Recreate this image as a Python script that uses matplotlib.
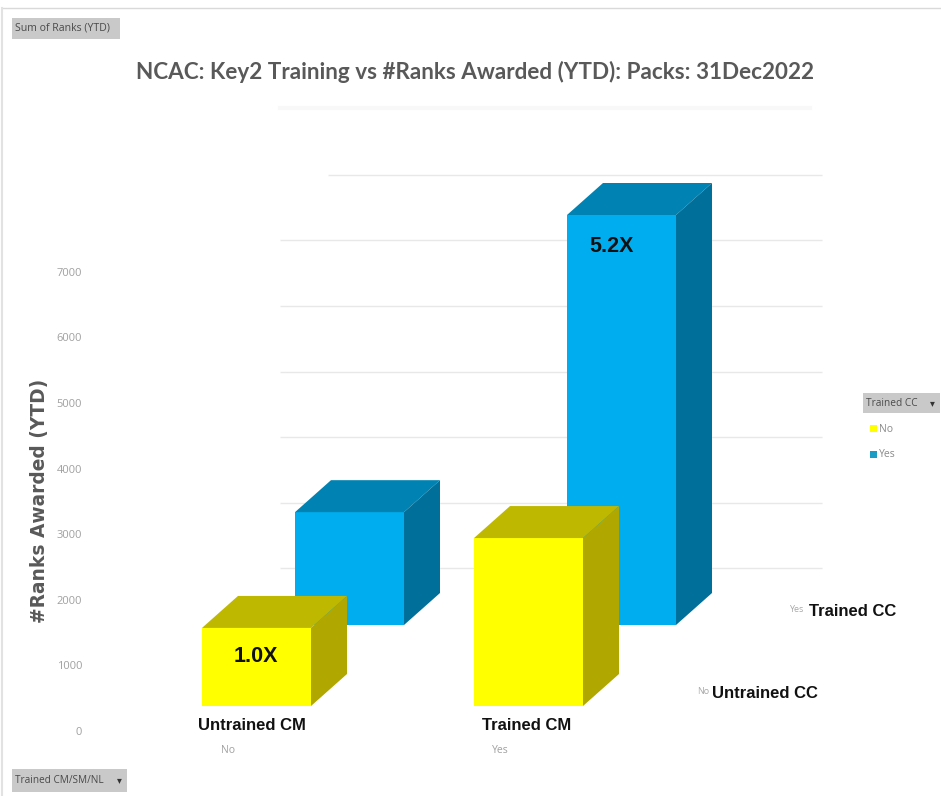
import matplotlib
matplotlib.use("Agg")
import matplotlib.pyplot as plt
from matplotlib.patches import Polygon, Rectangle

# values
cm_labels = ["No", "Yes"]
cm_names = ["Untrained CM", "Trained CM"]
ranks_untrained_cc = [1190, 2560]
ranks_trained_cc = [1720, 6250]
y_ticks = [0, 1000, 2000, 3000, 4000, 5000, 6000, 7000]
grid_levels = [1000, 2000, 3000, 4000, 5000, 6000, 7000]
ratio_labels = ["1.0X", "5.2X"]

W, H = 941, 796
PX_PER_RANK = 0.0656
PX_PER_CAT = 272.0
YELLOW = ("#FFFF00", "#BFB800", "#B0A800")
BLUE = ("#00AEEF", "#0083B3", "#006F9A")


def dx(px):
    return px / PX_PER_CAT


def dy(px):
    return px / PX_PER_RANK


def draw_bar(ax, cat, value, shift_px, floor_px, colors, z):
    # front face plus the fake 3d top and side
    front, top, side = colors
    width = dx(109)
    left = cat + dx(shift_px)
    right = left + width
    base = dy(floor_px)
    d_x = dx(36)
    d_y = dy(32)
    peak = base + value
    ax.bar(left, value, width=width, bottom=base, align="edge", color=front, zorder=z, linewidth=0)
    ax.add_patch(Polygon([(left, peak), (right, peak), (right + d_x, peak + d_y), (left + d_x, peak + d_y)],
                         closed=True, facecolor=top, edgecolor="none", zorder=z))
    ax.add_patch(Polygon([(right, base), (right, peak), (right + d_x, peak + d_y), (right + d_x, base + d_y)],
                         closed=True, facecolor=side, edgecolor="none", zorder=z))


def button(fig, x, y, w, h, label, size, arrow=False):
    fig.add_artist(Rectangle((x / W, 1 - (y + h) / H), w / W, h / H, transform=fig.transFigure,
                             facecolor="#C9C9C9", edgecolor="none"))
    fig.text((x + 3) / W, 1 - (y + h / 2) / H, label, fontsize=size, color="#4A4A4A",
             va="center", ha="left", family="Open Sans")
    if arrow:
        fig.text((x + w - 8) / W, 1 - (y + h / 2) / H, "▾", fontsize=7, color="#333333",
                 va="center", ha="center", family="DejaVu Sans")


fig = plt.figure(figsize=(W / 100, H / 100), dpi=100, facecolor="white")
ax = fig.add_axes([85 / W, 1 - 731 / H, (W - 85) / W, 731 / H])
ax.set_xlim(-143 / PX_PER_CAT, (W - 228) / PX_PER_CAT)
ax.set_ylim(0, dy(731))
for s in ax.spines.values():
    s.set_visible(False)
ax.patch.set_alpha(0)

ax.set_yticks(y_ticks)
ax.set_yticklabels([str(t) for t in y_ticks], fontsize=8, color="#A0A0A0", family="Open Sans")
ax.set_xticks(range(len(cm_labels)))
ax.set_xticklabels(cm_labels, fontsize=7.5, color="#A0A0A0", family="Open Sans")
ax.tick_params(length=0, axis="y", pad=2)
ax.tick_params(length=0, axis="x", pad=10)

# gridlines on the back wall, first one is the short top line
wall = dy(97)
for i, g in enumerate(grid_levels):
    start = dx(328 - 228) if g == grid_levels[-1] else dx(280 - 228)
    ax.hlines(g + wall, start, dx(822 - 228), color="#E8E8E8", linewidth=1, zorder=1)

# back row first, so that the yellow row covers it
for cat, v in enumerate(ranks_trained_cc):
    draw_bar(ax, cat, v, 67, 106, BLUE, 2 + cat)
for cat, v in enumerate(ranks_untrained_cc):
    draw_bar(ax, cat, v, -26, 25, YELLOW, 5 + cat)

ax.text(dx(28), dy(731 - 657), ratio_labels[0], fontsize=15.5, fontweight="bold", family="Liberation Sans",
        color="#111111", ha="center", va="center", zorder=10)
ax.text(1 + dx(112), dy(731 - 247), ratio_labels[1], fontsize=15.5, fontweight="bold", family="Liberation Sans",
        color="#111111", ha="center", va="center", zorder=10)

# category names written over the chart
ax.text(dx(24), dy(731 - 725), cm_names[0], fontsize=12, fontweight="bold", family="Liberation Sans",
        color="#111111", ha="center", va="center")
ax.text(1 + dx(27), dy(731 - 725), cm_names[1], fontsize=12, fontweight="bold", family="Liberation Sans",
        color="#111111", ha="center", va="center")

# depth axis labels
fig.text(809 / W, 1 - 611 / H, "Trained CC", fontsize=12, fontweight="bold", family="Liberation Sans",
         color="#111111", va="center")
fig.text(712 / W, 1 - 693 / H, "Untrained CC", fontsize=12, fontweight="bold", family="Liberation Sans",
         color="#111111", va="center")
fig.text(789 / W, 1 - 610 / H, "Yes", fontsize=6.5, color="#A8A8A8", va="center", family="Open Sans")
fig.text(697 / W, 1 - 691 / H, "No", fontsize=6.5, color="#A8A8A8", va="center", family="Open Sans")

fig.text(475 / W, 1 - 72 / H, "NCAC: Key2 Training vs #Ranks Awarded (YTD): Packs: 31Dec2022",
         fontsize=16.2, fontweight="bold", family="Lato", color="#595959", ha="center", va="center")
fig.text(40 / W, 1 - 501 / H, "#Ranks Awarded (YTD)", rotation=90, fontsize=13.4, fontweight="bold",
         family="DejaVu Sans", color="#595959", ha="center", va="center")

# faint smear under the title and the window border
fig.add_artist(plt.Line2D([280 / W, 810 / W], [1 - 108 / H, 1 - 108 / H], color="#F8F8F8", linewidth=3))
fig.add_artist(plt.Line2D([2 / W, 1], [1 - 8 / H, 1 - 8 / H], color="#D9D9D9", linewidth=1))
fig.add_artist(plt.Line2D([2 / W, 2 / W], [0, 1 - 8 / H], color="#E2E2E2", linewidth=1.5))

button(fig, 12, 18, 108, 21, "Sum of Ranks (YTD)", 7.6)
button(fig, 12, 769, 115, 23, "Trained CM/SM/NL", 7.2, arrow=True)
button(fig, 863, 393, 77, 20, "Trained CC", 7.3, arrow=True)

# legend
fig.add_artist(Rectangle((870 / W, 1 - 432 / H), 7 / W, 7 / H, transform=fig.transFigure,
                         facecolor="#FFFF00", edgecolor="none"))
fig.add_artist(Rectangle((870 / W, 1 - 458 / H), 7 / W, 7 / H, transform=fig.transFigure,
                         facecolor="#1B9CC4", edgecolor="none"))
fig.text(879 / W, 1 - 429 / H, "No", fontsize=7.5, color="#8A8A8A", va="center", family="Open Sans")
fig.text(879 / W, 1 - 455 / H, "Yes", fontsize=7.5, color="#8A8A8A", va="center", family="Open Sans")

plt.savefig("out.png", dpi=100)
plt.close()
